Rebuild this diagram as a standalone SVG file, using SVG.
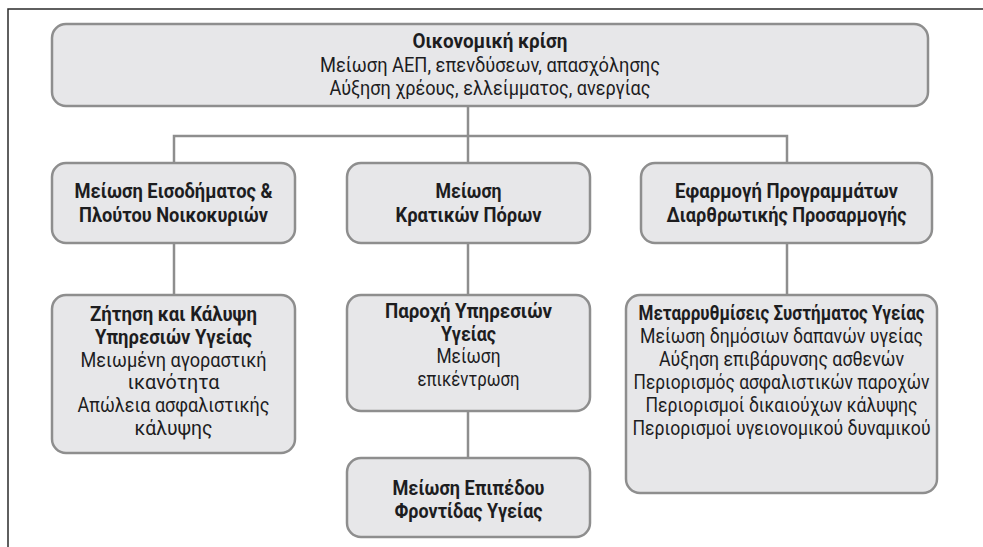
<svg xmlns="http://www.w3.org/2000/svg" width="983" height="547" viewBox="0 0 983 547">
<style>
.box{fill:#e7e7e9;stroke:#8e8e8e;stroke-width:2.5}
.conn{stroke:#8e8e8e;stroke-width:2.5;fill:none}
.frame{stroke:#2b2b2b;stroke-width:1.5;fill:none}
text{font-family:Roboto,"DejaVu Sans",sans-serif;font-size:20px;fill:#1d1d1f;text-anchor:middle}
.b{font-weight:bold}
</style>
<rect width="983" height="547" fill="#ffffff"/>
<path class="frame" d="M8,547 V9 H983"/>
<g id="connectors">
<path class="conn" d="M468,106 V163"/>
<path class="conn" d="M174,163 V136 H787 V163"/>
<path class="conn" d="M174,243 V295"/>
<path class="conn" d="M468,243 V295"/>
<path class="conn" d="M787,243 V295"/>
<path class="conn" d="M468,411 V458"/>
</g>
<g id="n_crisis">
<rect class="box" x="52" y="24" width="876" height="82" rx="14"/>
<text class="b" x="490" y="48" textLength="155" lengthAdjust="spacingAndGlyphs">Οικονομική κρίση</text>
<text x="490" y="72" textLength="340" lengthAdjust="spacingAndGlyphs">Μείωση ΑΕΠ, επενδύσεων, απασχόλησης</text>
<text x="490" y="95" textLength="321" lengthAdjust="spacingAndGlyphs">Αύξηση χρέους, ελλείμματος, ανεργίας</text>
</g>
<g id="n_income">
<rect class="box" x="52" y="163" width="243" height="80" rx="14"/>
<text class="b" x="173.5" y="198" textLength="198" lengthAdjust="spacingAndGlyphs">Μείωση Εισοδήματος &amp;</text>
<text class="b" x="173.5" y="222" textLength="189" lengthAdjust="spacingAndGlyphs">Πλούτου Νοικοκυριών</text>
</g>
<g id="n_state">
<rect class="box" x="347" y="163" width="243" height="80" rx="14"/>
<text class="b" x="468.5" y="198" textLength="66" lengthAdjust="spacingAndGlyphs">Μείωση</text>
<text class="b" x="468.5" y="222" textLength="146" lengthAdjust="spacingAndGlyphs">Κρατικών Πόρων</text>
</g>
<g id="n_programs">
<rect class="box" x="641" y="163" width="291" height="80" rx="14"/>
<text class="b" x="786.5" y="198" textLength="223" lengthAdjust="spacingAndGlyphs">Εφαρμογή Προγραμμάτων</text>
<text class="b" x="786.5" y="222" textLength="240" lengthAdjust="spacingAndGlyphs">Διαρθρωτικής Προσαρμογής</text>
</g>
<g id="n_demand">
<rect class="box" x="52" y="295" width="243" height="158" rx="14"/>
<text class="b" x="173.5" y="321" textLength="167" lengthAdjust="spacingAndGlyphs">Ζήτηση και Κάλυψη</text>
<text class="b" x="173.5" y="344" textLength="157" lengthAdjust="spacingAndGlyphs">Υπηρεσιών Υγείας</text>
<text x="173.5" y="367" textLength="186" lengthAdjust="spacingAndGlyphs">Μειωμένη αγοραστική</text>
<text x="173.5" y="389" textLength="92" lengthAdjust="spacingAndGlyphs">ικανότητα</text>
<text x="173.5" y="412" textLength="192" lengthAdjust="spacingAndGlyphs">Απώλεια ασφαλιστικής</text>
<text x="173.5" y="435" textLength="78" lengthAdjust="spacingAndGlyphs">κάλυψης</text>
</g>
<g id="n_supply">
<rect class="box" x="347" y="295" width="243" height="116" rx="14"/>
<text class="b" x="468.5" y="318" textLength="167" lengthAdjust="spacingAndGlyphs">Παροχή Υπηρεσιών</text>
<text class="b" x="468.5" y="341" textLength="55" lengthAdjust="spacingAndGlyphs">Υγείας</text>
<text x="468.5" y="363" textLength="64" lengthAdjust="spacingAndGlyphs">Μείωση</text>
<text x="468.5" y="386" textLength="102" lengthAdjust="spacingAndGlyphs">επικέντρωση</text>
</g>
<g id="n_reforms">
<rect class="box" x="626" y="295" width="311" height="198" rx="14"/>
<text class="b" x="781.5" y="320" textLength="286" lengthAdjust="spacingAndGlyphs">Μεταρρυθμίσεις Συστήματος Υγείας</text>
<text x="781.5" y="343" textLength="283" lengthAdjust="spacingAndGlyphs">Μείωση δημόσιων δαπανών υγείας</text>
<text x="781.5" y="366" textLength="245" lengthAdjust="spacingAndGlyphs">Αύξηση επιβάρυνσης ασθενών</text>
<text x="781.5" y="389" textLength="296" lengthAdjust="spacingAndGlyphs">Περιορισμός ασφαλιστικών παροχών</text>
<text x="781.5" y="412" textLength="272" lengthAdjust="spacingAndGlyphs">Περιορισμοί δικαιούχων κάλυψης</text>
<text x="781.5" y="435" textLength="298" lengthAdjust="spacingAndGlyphs">Περιορισμοί υγειονομικού δυναμικού</text>
</g>
<g id="n_level">
<rect class="box" x="347" y="458" width="243" height="79" rx="14"/>
<text class="b" x="468.5" y="495" textLength="152" lengthAdjust="spacingAndGlyphs">Μείωση Επιπέδου</text>
<text class="b" x="468.5" y="518" textLength="148" lengthAdjust="spacingAndGlyphs">Φροντίδας Υγείας</text>
</g>
</svg>
